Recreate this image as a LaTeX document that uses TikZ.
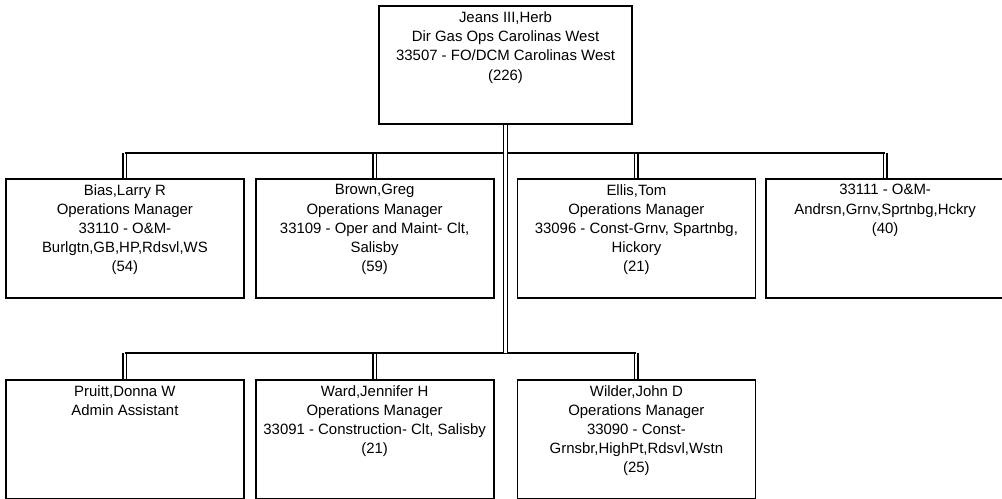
\documentclass[tikz,border=0pt]{standalone}
\usepackage{fontspec}
\setmainfont{Liberation Sans}
\usetikzlibrary{positioning,calc,backgrounds}
\tikzset{
  unit/.style={rectangle,draw=black,line width=1pt,minimum width=4.76cm,minimum height=2.38cm,inner sep=0pt},
  head/.style={unit,minimum width=5.06cm,minimum height=2.36cm},
  txt/.style={align=center,inner sep=1pt,font=\fontsize{8.5}{10.9}\selectfont},
  drop/.style={draw=black,line width=0.8pt,double,double distance=1.2pt},
  bus/.style={draw=black,line width=1.1pt},
}

\begin{document}
\begin{tikzpicture}[node distance=1.6cm and 0.2cm]
  \useasboundingbox (-0.1,3.56) rectangle (19.94,-6.4);
  \node[unit,anchor=north west] (bias) at (0,0) {};
  \node[unit,right=0.2cm of bias] (brown) {};
  \node[unit,right=0.44cm of brown] (ellis) {};
  \node[unit,right=0.18cm of ellis] (andrsn) {};
  \node[unit,below=1.6cm of bias] (pruitt) {};
  \node[unit,right=0.2cm of pruitt] (ward) {};
  \node[unit,right=0.44cm of ward] (wilder) {};
  \coordinate (mid) at ($(brown.north east)!0.5!(ellis.north west)$);
  \node[head,above=1.06cm of mid] (jeans) {};

  \node[txt,below=2.5pt of jeans.north] (jeansT) {Jeans III,Herb\\Dir Gas Ops Carolinas West\\33507 - FO/DCM Carolinas West\\(226)};
  \node[txt,below=2.5pt of bias.north] (biasT) {Bias,Larry R\\Operations Manager\\33110 - O\&M-\\Burlgtn,GB,HP,Rdsvl,WS\\(54)};
  \node[txt,below=2.5pt of brown.north] (brownT) {Brown,Greg\\Operations Manager\\33109 - Oper and Maint- Clt,\\Salisby\\(59)};
  \node[txt,below=2.5pt of ellis.north] (ellisT) {Ellis,Tom\\Operations Manager\\33096 - Const-Grnv, Spartnbg,\\Hickory\\(21)};
  \node[txt,below=2.5pt of andrsn.north] (andrsnT) {33111 - O\&M-\\Andrsn,Grnv,Sprtnbg,Hckry\\(40)};
  \node[txt,below=2.5pt of pruitt.north] (pruittT) {Pruitt,Donna W\\Admin Assistant};
  \node[txt,below=2.5pt of ward.north] (wardT) {Ward,Jennifer H\\Operations Manager\\33091 - Construction- Clt, Salisby\\(21)};
  \node[txt,below=2.5pt of wilder.north] (wilderT) {Wilder,John D\\Operations Manager\\33090 - Const-\\Grnsbr,HighPt,Rdsvl,Wstn\\(25)};

  \coordinate[below=0.56cm of jeans.south] (hub1);
  \coordinate[above=0.52cm of pruitt.north] (row3);
  \coordinate (hub2) at (hub1 |- row3);
  \begin{scope}[on background layer]
    \foreach \u in {bias,brown,ellis,andrsn} \draw[drop] (hub1 -| \u.north) -- (\u.north);
    \foreach \u in {pruitt,ward,wilder} \draw[drop] (hub2 -| \u.north) -- (\u.north);
    \draw[bus] (hub1 -| bias.north) -- (hub1 -| andrsn.north);
    \draw[bus] (hub2 -| pruitt.north) -- (hub2 -| wilder.north);
    \draw[drop] (jeans.south) -- (hub1) -- (hub2);
  \end{scope}
\end{tikzpicture}
\end{document}
